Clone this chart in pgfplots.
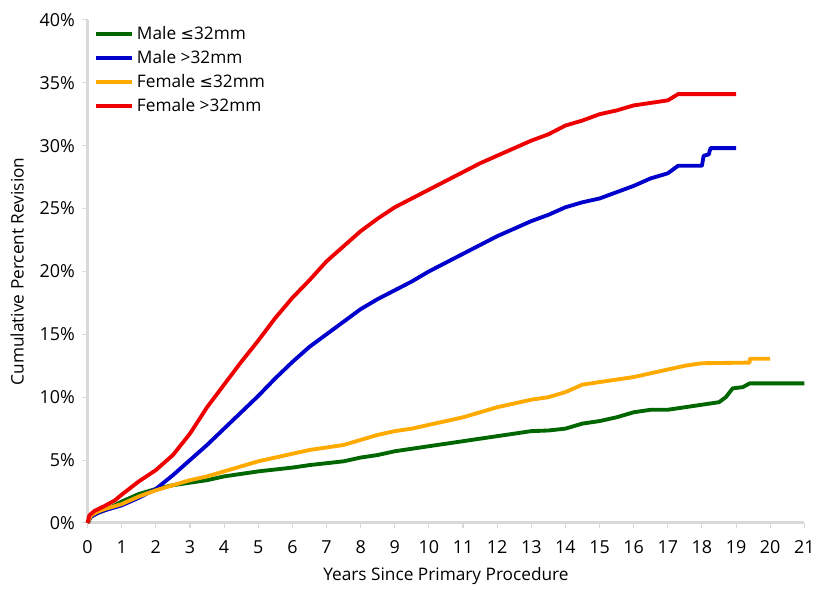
\documentclass[border=0pt]{standalone}
\usepackage{fontspec}
\setmainfont{Open Sans}
\newfontfamily\dejavu{DejaVu Sans}
\usepackage{pgfplots}
\pgfplotsset{compat=1.18}
\definecolor{cgreen}{RGB}{0,102,0}
\definecolor{cblue}{RGB}{0,0,204}
\definecolor{corange}{RGB}{255,170,0}
\definecolor{cred}{RGB}{238,0,0}
\definecolor{axgray}{RGB}{217,217,217}
\newcommand{\lesym}{{\dejavu\fontsize{12}{14}\selectfont ≤}}
\begin{document}
\begin{tikzpicture}
\begin{axis}[
  name=main,
  scale only axis,
  width=540pt, height=379pt,
  xmin=0, xmax=21, ymin=0, ymax=40,
  xtick={0,1,...,21}, ytick={0,5,...,40},
  yticklabel={\pgfmathprintnumber{\tick}\%},
  /pgf/number format/assume math mode=true,
  axis x line*=bottom, axis y line*=left,
  axis line style={draw=axgray, line width=2.2pt, -},
  tick style={draw=axgray, line width=0.8pt},
  tick align=outside, major tick length=4pt,
  tick label style={font=\fontsize{13.5}{16}\selectfont},
  xticklabel style={yshift=-6pt},
  yticklabel style={xshift=-2pt},
  xlabel={Years Since Primary Procedure},
  ylabel={Cumulative Percent Revision},
  label style={font=\fontsize{13}{15}\selectfont},
  xlabel style={at={(axis description cs:0.5,0)}, anchor=center, yshift=-40pt},
  ylabel style={at={(axis description cs:0,0.5)}, anchor=center, yshift=53pt},
  legend style={draw=none, fill=none, at={(0,1)}, anchor=north west,
    xshift=2pt, yshift=-1pt,
    font=\fontsize{13}{15.5}\selectfont, row sep=2.5pt},
  legend cell align=left,
  legend image code/.code={\draw[#1, line width=3pt] (0pt,0pt) -- (27pt,0pt);},
  every axis plot/.append style={line width=2.9pt, line join=round},
  clip=false,
]
\addplot[cgreen] coordinates {(0,0)(0.1,0.5)(0.3,0.8)(0.5,1.0)(1,1.7)(1.5,2.3)(2,2.7)(2.5,3.0)(3,3.2)(3.5,3.4)(4,3.7)(4.5,3.9)(5,4.1)(5.5,4.25)(6,4.4)(6.5,4.6)(7,4.75)(7.5,4.9)(8,5.2)(8.5,5.4)(9,5.7)(9.5,5.9)(10,6.1)(10.5,6.3)(11,6.5)(11.5,6.7)(12,6.9)(12.5,7.1)(13,7.3)(13.5,7.35)(14,7.5)(14.5,7.9)(15,8.1)(15.5,8.4)(16,8.8)(16.5,9.0)(17,9.0)(17.5,9.2)(18,9.4)(18.5,9.6)(18.7,10.0)(18.9,10.7)(19.2,10.8)(19.4,11.1)(21,11.1)};
\addlegendentry{Male \lesym32mm}
\addplot[cblue] coordinates {(0,0)(0.1,0.5)(0.3,0.8)(0.5,1.0)(1,1.4)(1.5,2.0)(2,2.7)(2.5,3.8)(3,5.0)(3.5,6.2)(4,7.5)(4.5,8.8)(5,10.1)(5.5,11.5)(6,12.8)(6.5,14.0)(7,15.0)(7.5,16.0)(8,17.0)(8.5,17.8)(9,18.5)(9.5,19.2)(10,20.0)(10.5,20.7)(11,21.4)(11.5,22.1)(12,22.8)(12.5,23.4)(13,24.0)(13.5,24.5)(14,25.1)(14.5,25.5)(15,25.8)(15.5,26.3)(16,26.8)(16.5,27.4)(17,27.8)(17.3,28.4)(18,28.4)(18.05,29.2)(18.2,29.3)(18.25,29.8)(19,29.8)};
\addlegendentry{Male >32mm}
\addplot[corange] coordinates {(0,0)(0.1,0.6)(0.3,0.9)(0.5,1.1)(1,1.5)(1.5,2.1)(2,2.6)(2.5,3.0)(3,3.4)(3.5,3.7)(4,4.1)(4.5,4.5)(5,4.9)(5.5,5.2)(6,5.5)(6.5,5.8)(7,6.0)(7.5,6.2)(8,6.6)(8.5,7.0)(9,7.3)(9.5,7.5)(10,7.8)(10.5,8.1)(11,8.4)(11.5,8.8)(12,9.2)(12.5,9.5)(13,9.8)(13.5,10.0)(14,10.4)(14.5,11.0)(15,11.2)(15.5,11.4)(16,11.6)(16.5,11.9)(17,12.2)(17.5,12.5)(18,12.7)(19.4,12.75)(19.4,13.05)(20,13.05)};
\addlegendentry{Female \lesym32mm}
\addplot[cred] coordinates {(0,0)(0.05,0.6)(0.2,0.95)(0.5,1.35)(0.8,1.8)(1,2.25)(1.5,3.3)(2,4.2)(2.5,5.4)(3,7.1)(3.5,9.2)(4,11.0)(4.5,12.8)(5,14.5)(5.5,16.3)(6,17.9)(6.5,19.3)(7,20.8)(7.5,22.0)(8,23.2)(8.5,24.2)(9,25.1)(9.5,25.8)(10,26.5)(10.5,27.2)(11,27.9)(11.5,28.6)(12,29.2)(12.5,29.8)(13,30.4)(13.5,30.9)(14,31.6)(14.5,32.0)(15,32.5)(15.5,32.8)(16,33.2)(16.5,33.4)(17,33.6)(17.3,34.1)(19,34.1)};
\addlegendentry{Female >32mm}
\end{axis}
% page margins around the axis, as in the reference
\path (main.south west) ++(-66pt,-48pt) coordinate (bbl);
\path (main.north east) ++(8pt,15pt) coordinate (btr);
\path (bbl) rectangle (btr);
\end{tikzpicture}
\end{document}
